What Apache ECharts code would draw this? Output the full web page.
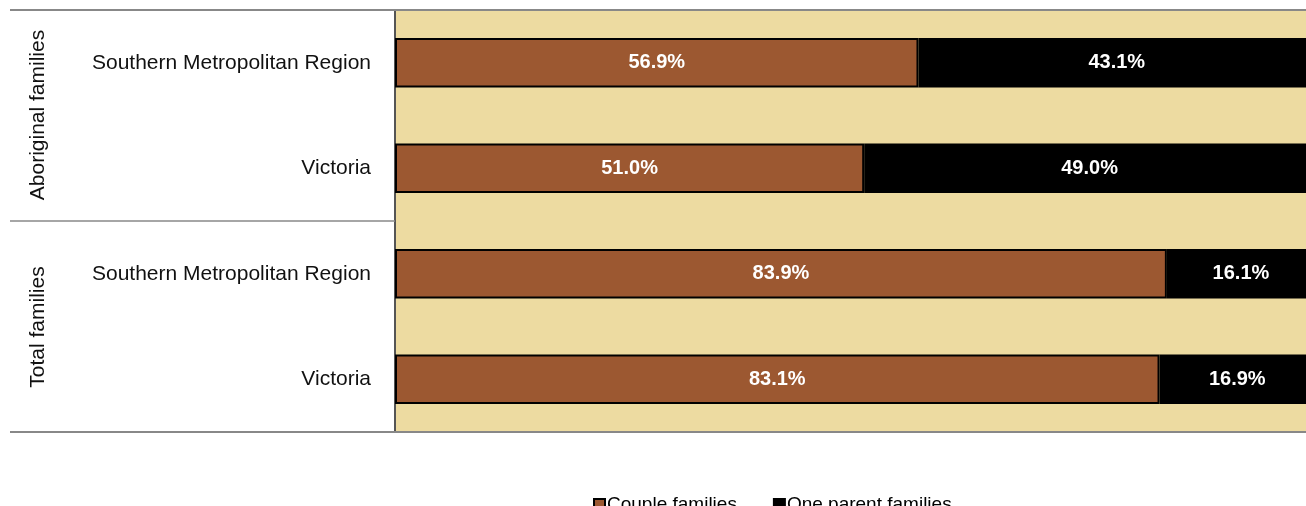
<!DOCTYPE html>
<html><head><meta charset="utf-8">
<script src="https://cdn.jsdelivr.net/npm/echarts@6/dist/echarts.min.js"></script>
<style>html,body{margin:0;padding:0;background:#fff;overflow:hidden}#c{width:1315px;height:506px}</style>
</head><body><div id="c"></div>
<script>
const categories = ['Southern Metropolitan Region', 'Victoria', 'Southern Metropolitan Region', 'Victoria'];
const groups = ['Aboriginal families', 'Total families'];
const coupleFamilies = [56.9, 51.0, 83.9, 83.1];
const oneParentFamilies = [43.1, 49.0, 16.1, 16.9];
const seriesNames = ['Couple families', 'One parent families'];

const chart = echarts.init(document.getElementById('c'));
const font = 'Liberation Sans, Arial, sans-serif';
const lbl = {show: true, position: 'inside', color: '#fff', fontWeight: 'bold', fontSize: 20, fontFamily: font, formatter: p => p.value.toFixed(1) + '%'};
chart.setOption({
  animation: false,
  grid: {left: 395, right: 0, top: 10, bottom: 74, show: true, backgroundColor: '#EDDBA1', borderWidth: 0},
  xAxis: {type: 'value', min: 0, max: 100, show: false},
  yAxis: {type: 'category', data: categories, inverse: true,
    axisLine: {show: true, lineStyle: {color: '#555', width: 2}},
    axisTick: {show: false},
    axisLabel: {color: '#111', fontSize: 21, fontFamily: font, margin: 24}},
  legend: {left: 588, top: 490, itemWidth: 11, itemHeight: 11, itemGap: 36, icon: 'rect',
    textStyle: {fontSize: 19, fontFamily: font, color: '#000', padding: [0,0,0,-3]},
    data: seriesNames},
  series: [
    {name: seriesNames[0], type: 'bar', stack: 'a', data: coupleFamilies, barWidth: '47%',
     itemStyle: {color: '#9C5831', borderColor: '#000', borderWidth: 2}, label: lbl},
    {name: seriesNames[1], type: 'bar', stack: 'a', data: oneParentFamilies, barWidth: '47%',
     itemStyle: {color: '#000', borderColor: '#000', borderWidth: 2}, label: lbl}
  ],
  graphic: [
    {type: 'line', shape: {x1: 10, y1: 10, x2: 1315, y2: 10}, style: {stroke: '#888', lineWidth: 2}, z: 10},
    {type: 'line', shape: {x1: 10, y1: 221, x2: 395, y2: 221}, style: {stroke: '#888', lineWidth: 1.5}, z: 10},
    {type: 'line', shape: {x1: 10, y1: 432, x2: 1315, y2: 432}, style: {stroke: '#888', lineWidth: 2}, z: 10},
    {type: 'text', x: 38, y: 115, rotation: Math.PI/2, style: {text: groups[0], fontSize: 21, fontFamily: font, fill: '#111', align: 'center', verticalAlign: 'middle'}},
    {type: 'text', x: 38, y: 327, rotation: Math.PI/2, style: {text: groups[1], fontSize: 21, fontFamily: font, fill: '#111', align: 'center', verticalAlign: 'middle'}}
  ]
});
</script></body></html>
